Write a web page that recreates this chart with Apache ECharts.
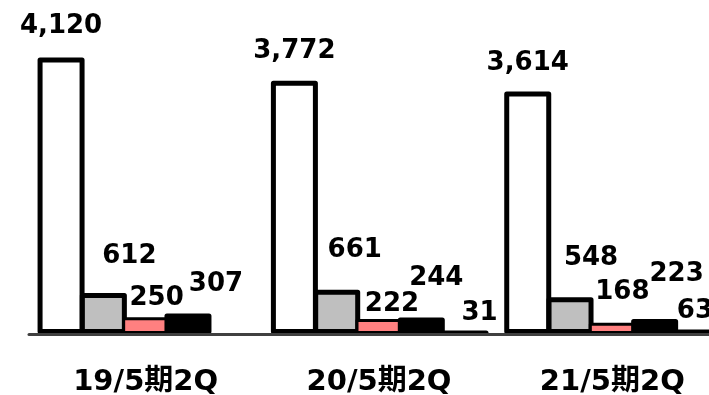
<!DOCTYPE html>
<html>
<head>
<meta charset="utf-8">
<script src="https://cdn.jsdelivr.net/npm/echarts@6/dist/echarts.min.js"></script>
<style>html,body{margin:0;padding:0;background:#fff;}#c{width:709px;height:395px;}</style>
</head>
<body>
<div id="c"></div>
<script>
var categories = ['19/5期2Q', '20/5期2Q', '21/5期2Q'];
var seriesA = [4120, 3772, 3614];
var seriesB = [612, 661, 548];
var seriesC = [250, 222, 168];
var seriesD = [307, 244, 223];
var seriesE = [null, 31, 63];

var colors = ['#FFFFFF', '#BFBFBF', '#FF8080', '#000000', '#FFFFFF'];
var borderWidths = [5, 5, 3, 5, 5];
// label offsets (style only): [dx, dy] per point
var labelOffsets = [
  [[0, -18], [0, -17], [0, -15]],
  [[26, -24], [18, -26], [21, -26]],
  [[11, -6], [13, -2], [10, -17]],
  [[28, -16], [15, -26], [22, -32]],
  [[0, 0], [16, -4], [-2, -5]]
];

var FONT = '"DejaVu Sans","Noto Sans CJK JP",sans-serif';
var allData = [seriesA, seriesB, seriesC, seriesD, seriesE];

var series = allData.map(function (arr, si) {
  return {
    type: 'bar',
    barWidth: 47,
    barGap: '-10%',
    z: 2 + si,
    itemStyle: { color: colors[si], borderColor: '#000', borderWidth: borderWidths[si], borderJoin: 'round' },
    data: arr.map(function (v, i) {
      return {
        value: v,
        label: { offset: labelOffsets[si][i] }
      };
    }),
    label: {
      show: true,
      position: 'top',
      distance: 0,
      color: '#000',
      fontSize: 26,
      fontWeight: 'bold',
      fontFamily: FONT,
      formatter: function (p) { return p.value == null ? '' : Number(p.value).toLocaleString('en-US'); }
    }
  };
});

var chart = echarts.init(document.getElementById('c'));
chart.setOption({
  animation: false,
  backgroundColor: '#fff',
  grid: { left: 29, width: 700, top: 32, bottom: 61, containLabel: false, outerBoundsMode: 'none' },
  xAxis: {
    type: 'category',
    data: categories,
    z: 10,
    axisLine: { show: true, lineStyle: { color: '#404040', width: 3 } },
    axisTick: { show: false },
    axisLabel: { color: '#000', fontSize: 29, fontWeight: 'bold', fontFamily: FONT, margin: 34 }
  },
  yAxis: {
    type: 'value',
    min: 0,
    max: 4500,
    show: false,
    splitLine: { show: false }
  },
  series: series
});
</script>
</body>
</html>
